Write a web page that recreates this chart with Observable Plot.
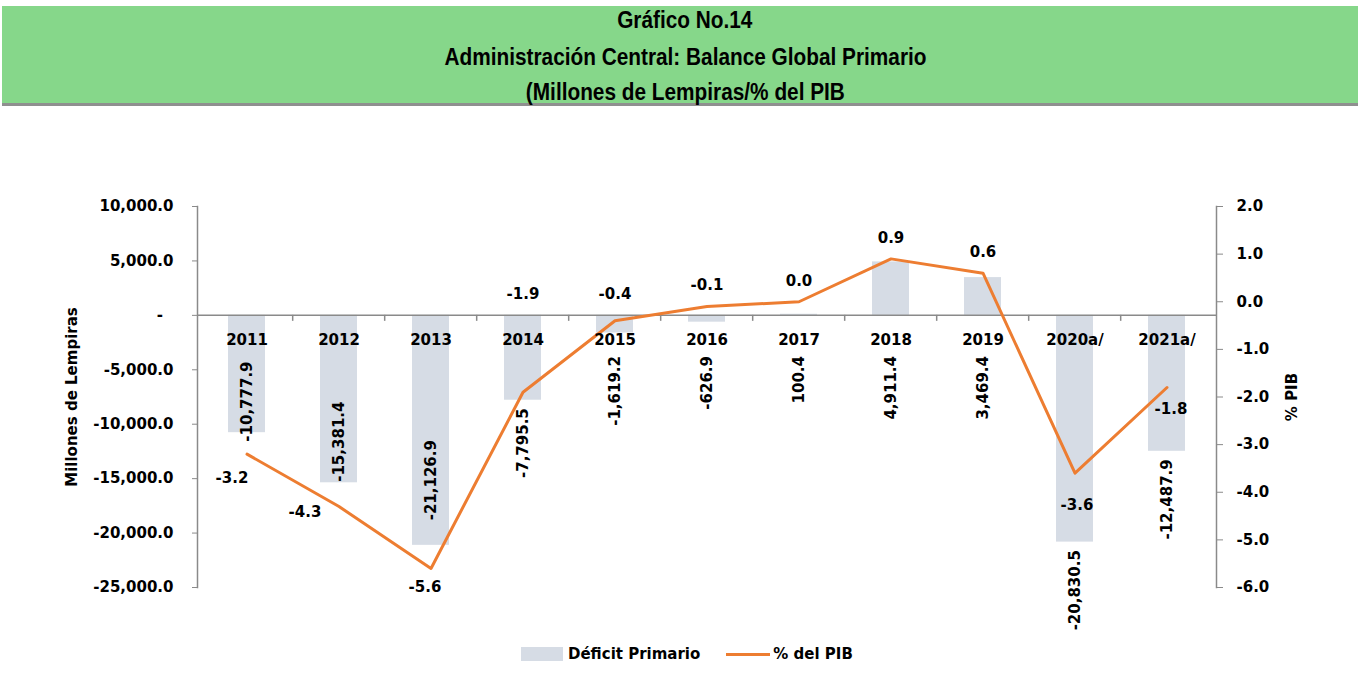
<!DOCTYPE html>
<html>
<head>
<meta charset="utf-8">
<script src="https://cdn.jsdelivr.net/npm/d3@7"></script>
<script src="https://cdn.jsdelivr.net/npm/@observablehq/plot@0.6"></script>
<style>
  html, body { margin: 0; padding: 0; background: #fff; }
  #wrap { position: relative; width: 1360px; height: 679px; overflow: hidden; font-family: "DejaVu Sans", sans-serif; }
  #banner { position: absolute; left: 2px; top: 6px; width: 1356px; height: 97px; background: #86D78A; border-bottom: 3px solid #8f8f8f;
            font-family: "Liberation Sans", Arial, sans-serif; font-weight: bold; font-size: 23px; color: #000; }
  #banner div { position: absolute; left: 0; right: 0; text-align: center; padding-left: 10px; line-height: 26px; }
  #banner span { display: inline-block; transform-origin: 50% 50%; }
  #chart { position: absolute; left: 0; top: 110px; }
  #legend { position: absolute; left: 521px; top: 644px; height: 20px; display: flex; align-items: center; font-weight: bold; font-size: 15px; color: #000; white-space: nowrap; }
  #legend .sw { display: inline-block; width: 42px; height: 14px; background: #D6DCE5; margin-right: 5px; }
  #legend .ln { display: inline-block; width: 44px; height: 3px; background: #ED7D31; margin-left: 26px; margin-right: 3px; }
</style>
</head>
<body>
<div id="wrap">
  <div id="banner">
    <div style="top:1px"><span>Gráfico No.14</span></div>
    <div style="top:38px"><span>Administración Central: Balance Global Primario</span></div>
    <div style="top:73px"><span>(Millones de Lempiras/% del PIB</span></div>
  </div>
  <div id="chart"></div>
  <div id="legend"><span class="sw"></span>Déficit Primario<span class="ln"></span>% del PIB</div>
</div>
<script>
// ---- data ----
const years = ["2011", "2012", "2013", "2014", "2015", "2016", "2017", "2018", "2019", "2020a/", "2021a/"];
const deficit = [-10777.9, -15381.4, -21126.9, -7795.5, -1619.2, -626.9, 100.4, 4911.4, 3469.4, -20830.5, -12487.9];
const pctPIB = [-3.2, -4.3, -5.6, -1.9, -0.4, -0.1, 0.0, 0.9, 0.6, -3.6, -1.8];
const leftTicks = [10000, 5000, 0, -5000, -10000, -15000, -20000, -25000];
const rightTicks = [2, 1, 0, -1, -2, -3, -4, -5, -6];
const leftTitle = "Millones de Lempiras";
const rightTitle = "% PIB";

const data = years.map((year, i) => ({year, deficit: deficit[i], pct: pctPIB[i], i}));

// condensed title: squeeze the banner lines horizontally (Arial Narrow look)
{
  const spans = document.querySelectorAll("#banner span");
  const w = spans[1].getBoundingClientRect().width;
  const k = 482 / w;
  spans.forEach(s => s.style.transform = `scaleX(${k})`);
}

// secondary axis mapping: [-6, 2] -> [-25000, 10000]
const toLeft = p => (p + 6) / 8 * 35000 - 25000;
const fromLeft = v => (v + 25000) / 35000 * 8 - 6;

const loc = d3.formatLocale({decimal: ".", thousands: ",", grouping: [3], currency: ["", ""], minus: "-"});
const fmtC = loc.format(",.1f");
const fmt1 = loc.format(".1f");

const W = 1360, H = 520, ML = 197, MR = 144, MT = 96, MB = 43;
const step = (W - ML - MR) / years.length;
const axisGray = "#8a8a8a";
const zeroPct = fromLeft(0);

// label placements (pixel offsets)
const lineBelow = {"2011": [-15, 24], "2012": [-34, 6], "2013": [-6, 19], "2020a/": [2, 32], "2021a/": [4, 22]};
const barInsideDy = {"2011": 9, "2012": -1, "2013": -25};

const barLabelMarks = data.map(d => {
  if (d.year in barInsideDy) {
    return Plot.text([d], {x: "year", y: "deficit", text: v => fmtC(v.deficit), rotate: -90, textAnchor: "start", dy: barInsideDy[d.year], fontSize: 15, fontWeight: "bold", fill: "#000"});
  }
  return Plot.text([d], {x: "year", y: v => Math.min(v.deficit, -3000), text: v => fmtC(v.deficit), rotate: -90, textAnchor: "end", dy: 8, fontSize: 15, fontWeight: "bold", fill: "#000"});
});

const lineLabelMarks = data.map(d => {
  if (d.year in lineBelow) {
    const [dx, dy] = lineBelow[d.year];
    return Plot.text([d], {x: "year", y: v => toLeft(v.pct), text: v => fmt1(v.pct), dx, dy, fontSize: 15, fontWeight: "bold", fill: "#000"});
  }
  return Plot.text([d], {x: "year", y: v => toLeft(Math.max(v.pct, zeroPct)), text: v => fmt1(v.pct), dy: -21, fontSize: 15, fontWeight: "bold", fill: "#000"});
});

const chart = Plot.plot({
  width: W, height: H,
  marginLeft: ML, marginRight: MR, marginTop: MT, marginBottom: MB,
  style: {fontFamily: "DejaVu Sans, sans-serif", fontWeight: "bold", fontSize: "15px", color: "#000", background: "transparent", overflow: "visible"},
  x: {type: "band", domain: years, paddingInner: 0.6, paddingOuter: 0.3, axis: null},
  y: {domain: [-25000, 10000], axis: null},
  marks: [
    Plot.barY(data, {x: "year", y: "deficit", fill: "#D6DCE5"}),
    Plot.ruleY([0], {stroke: axisGray, strokeWidth: 1.5}),
    Plot.ruleX(years.slice(1), {x: d => d, y1: 0, y2: -550, dx: -step / 2, stroke: axisGray, strokeWidth: 1.5}),
    Plot.frame({anchor: "left", stroke: axisGray, strokeWidth: 1.5}),
    Plot.frame({anchor: "right", stroke: axisGray, strokeWidth: 1.5}),
    Plot.axisY(leftTicks, {anchor: "left", tickSize: 5, tickPadding: 19, stroke: axisGray, fill: "#000", fontWeight: "bold", fontSize: 15,
      tickFormat: v => v === 0 ? "-\u00A0\u00A0" : fmtC(v), label: null}),
    Plot.axisY(rightTicks.map(toLeft), {anchor: "right", tickSize: 6, tickPadding: 14, stroke: axisGray, fill: "#000", fontWeight: "bold", fontSize: 15,
      tickFormat: v => fmt1(Math.round(fromLeft(v) * 10) / 10), label: null}),
    Plot.line(data, {x: "year", y: d => toLeft(d.pct), stroke: "#ED7D31", strokeWidth: 3}),
    Plot.text(data, {x: "year", y: 0, text: "year", dy: 25, fontSize: 15, fontWeight: "bold", fill: "#000"}),
    ...barLabelMarks,
    ...lineLabelMarks,
    Plot.text([leftTitle], {frameAnchor: "left", text: d => d, rotate: -90, textAnchor: "middle", dx: -125, fontSize: 15, fontWeight: "bold", fill: "#000"}),
    Plot.text([rightTitle], {frameAnchor: "right", text: d => d, rotate: -90, textAnchor: "middle", dx: 76, fontSize: 15, fontWeight: "bold", fill: "#000"})
  ]
});
document.getElementById("chart").appendChild(chart);
</script>
</body>
</html>
